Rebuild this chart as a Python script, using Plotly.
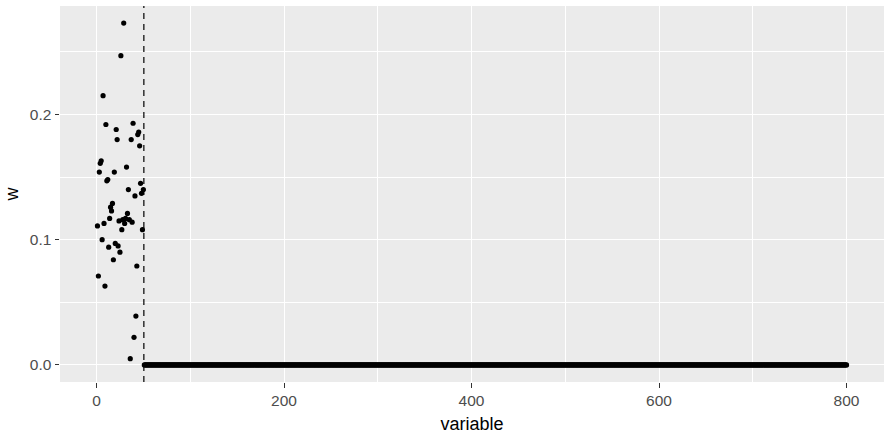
import plotly.graph_objects as go

# Weights of the 50 selected variables (the rest are exactly zero)
n_vars = 800
n_selected = 50
selected_w = [
    0.111, 0.071, 0.154, 0.161, 0.163, 0.100, 0.215, 0.113, 0.063, 0.192,
    0.147, 0.148, 0.094, 0.117, 0.126, 0.123, 0.129, 0.084, 0.154, 0.097,
    0.188, 0.180, 0.095, 0.115, 0.090, 0.247, 0.108, 0.116, 0.273, 0.113,
    0.117, 0.158, 0.121, 0.140, 0.116, 0.005, 0.180, 0.114, 0.193, 0.022,
    0.135, 0.039, 0.079, 0.184, 0.186, 0.175, 0.145, 0.137, 0.108, 0.140,
]
variable = list(range(1, n_vars + 1))
w = selected_w + [0.0] * (n_vars - n_selected)
cutoff = n_selected + 0.5

x_ticks = [0, 200, 400, 600, 800]
y_ticks = [0.0, 0.1, 0.2]
y_tick_text = ["0.0", "0.1", "0.2"]

# ggplot-style 5% expansion of the data range
xr = (max(variable) - min(variable)) * 0.05
yr = (max(w) - min(w)) * 0.05

font = "Liberation Sans, Arial, sans-serif"

fig = go.Figure()
fig.add_trace(go.Scatter(
    x=variable, y=w, mode="markers",
    marker=dict(size=5.2, color="black", line=dict(width=0)),
    hoverinfo="x+y", showlegend=False,
))

fig.add_shape(type="line", xref="x", yref="paper",
              x0=cutoff, x1=cutoff, y0=0, y1=1,
              line=dict(color="black", width=1.2, dash="6px,5px"))

axis_common = dict(
    showgrid=True, gridcolor="white", gridwidth=1.2,
    zeroline=False, showline=False,
    ticks="outside", ticklen=4.5, tickwidth=1.1, tickcolor="#333333",
    tickfont=dict(family=font, size=15.5, color="#4D4D4D"),
    minor=dict(showgrid=True, gridcolor="white", gridwidth=0.6),
)

fig.update_layout(
    width=884, height=435,
    margin=dict(l=60, r=0, t=6, b=53),
    paper_bgcolor="white", plot_bgcolor="#EBEBEB",
    font=dict(family=font, color="black"),
    xaxis=dict(
        range=[min(variable) - xr, max(variable) + xr],
        tickvals=x_ticks,
        title=dict(text="variable", font=dict(size=18, color="black"), standoff=9),
        **axis_common,
    ),
    yaxis=dict(
        range=[min(w) - yr, max(w) + yr],
        tickvals=y_ticks, ticktext=y_tick_text,
        title=dict(text="w", font=dict(size=18, color="black"), standoff=6),
        **axis_common,
    ),
)
fig.update_xaxes(minor=dict(tickvals=[100, 300, 500, 700], ticks=""))
fig.update_yaxes(minor=dict(tickvals=[0.05, 0.15, 0.25], ticks=""))

fig.write_html("out.html")
